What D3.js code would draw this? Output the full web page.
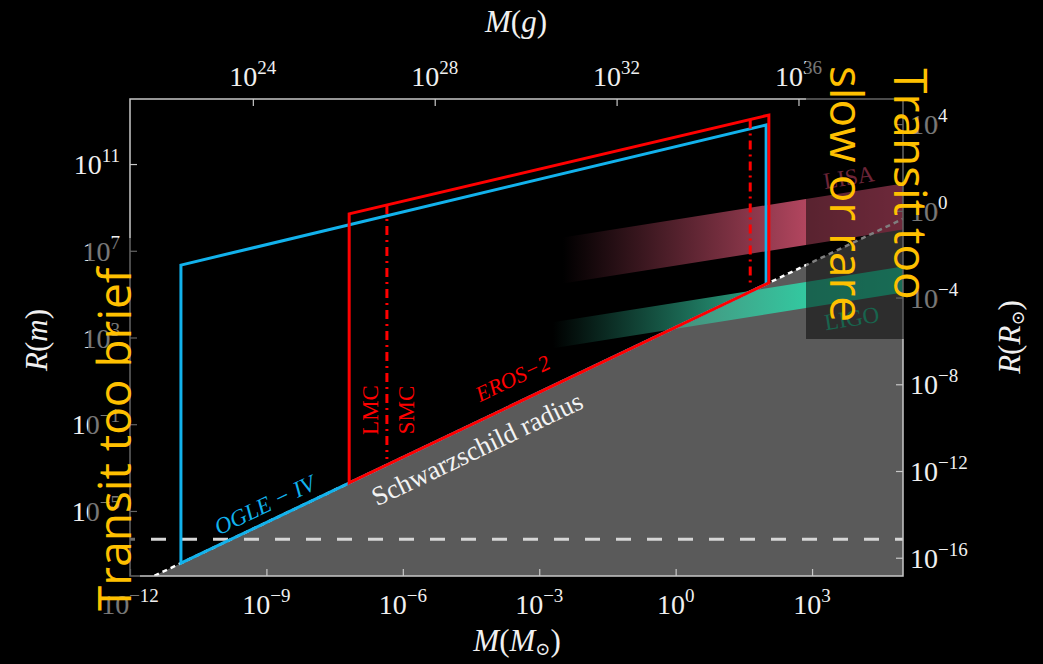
<!DOCTYPE html>
<html>
<head>
<meta charset="utf-8">
<script src="https://cdn.jsdelivr.net/npm/d3@7"></script>
<style>
  body { margin: 0; background: #000; }
  svg { display: block; }
</style>
</head>
<body>
<script>
// All chart values are log10 exponents
const massDomain = [-12, 5]; // log10 M/Msun
const radiusDomain = [-8, 14]; // log10 R/m
const bottomTicks = [-12, -9, -6, -3, 0, 3];
const topTicks = [24, 28, 32, 36]; // grams
const leftTicks = [-5, -1, 3, 7, 11]; // metres
const rightTicks = [-16, -12, -8, -4, 0, 4]; // solar radii
const logMsunGram = 33.2986;
const logRsunMetre = 8.8424;
const logSchwarzschild = 3.4703; // R_s = 2GM/c^2 in m for 1 Msun

// survey boxes: [mass, top radius] at left and right edge
const ogleMass = [-10.88, 1.99];
const ogleTop = [6.34, 12.8];
const erosMass = [-7.18, 2.05];
const erosTop = [8.7, 13.26];
const cloudMass = [-6.35, 1.64]; // LMC / SMC dash-dot lines

// GW bands: [mass, low R, high R] at both ends
const lisaBand = [[-2.48, 5.49, 7.61], [5, 7.98, 10.1]];
const ligoBand = [[-2.7, 2.5, 3.7], [5, 5.07, 6.27]];
const whiteDwarfLine = -6.31; // dashed horizontal

const width = 1043, height = 664;
const plot = { left: 130, right: 903, top: 99, bottom: 576 };

const x = d3.scaleLinear().domain(massDomain).range([plot.left, plot.right]);
const y = d3.scaleLinear().domain(radiusDomain).range([plot.bottom, plot.top]);
const rs = (m) => m + logSchwarzschild;

const serif = "'Liberation Serif', 'DejaVu Serif', serif";
const blue = "#12b2ec";
const red = "#ff0000";

const svg = d3
  .select("body")
  .append("svg")
  .attr("width", width)
  .attr("height", height);

svg.append("rect").attr("width", width).attr("height", height).attr("fill", "#000");

const defs = svg.append("defs");
defs
  .append("clipPath")
  .attr("id", "plotclip")
  .append("rect")
  .attr("x", plot.left)
  .attr("y", plot.top)
  .attr("width", plot.right - plot.left)
  .attr("height", plot.bottom - plot.top);

function bandGradient(id, band, c1, c2) {
  const x0 = x(band[0][0]), x1 = x(band[1][0]);
  const mid = (x(2.87) - x0) / (x1 - x0);
  const g = defs
    .append("linearGradient")
    .attr("id", id)
    .attr("gradientUnits", "userSpaceOnUse")
    .attr("x1", x0)
    .attr("x2", x1)
    .attr("y1", 0)
    .attr("y2", 0);
  g.append("stop").attr("offset", 0).attr("stop-color", c1).attr("stop-opacity", 0);
  g.append("stop").attr("offset", mid).attr("stop-color", c1).attr("stop-opacity", 1);
  g.append("stop").attr("offset", 1).attr("stop-color", c2).attr("stop-opacity", 1);
}
bandGradient("lisaGrad", lisaBand, "#b2465f", "#dc5276");
bandGradient("ligoGrad", ligoBand, "#33c8a0", "#30d8aa");

const g = svg.append("g").attr("clip-path", "url(#plotclip)");

// black-hole region below the Schwarzschild radius
g.append("path")
  .attr(
    "d",
    d3.line()([
      [x(massDomain[0]), y(rs(massDomain[0]))],
      [x(massDomain[1]), y(rs(massDomain[1]))],
      [x(massDomain[1]), y(radiusDomain[0])],
      [x(massDomain[0]), y(radiusDomain[0])],
    ])
  )
  .attr("fill", "#5a5a5a");

// GW frequency bands
function drawBand(band, grad) {
  const pts = [
    [x(band[0][0]), y(band[0][1])],
    [x(band[1][0]), y(band[1][1])],
    [x(band[1][0]), y(band[1][2])],
    [x(band[0][0]), y(band[0][2])],
  ];
  g.append("path").attr("d", d3.line()(pts) + "Z").attr("fill", `url(#${grad})`);
}
drawBand(lisaBand, "lisaGrad");
drawBand(ligoBand, "ligoGrad");

// dashed horizontal line
g.append("line")
  .attr("x1", plot.left)
  .attr("x2", plot.right)
  .attr("y1", y(whiteDwarfLine))
  .attr("y2", y(whiteDwarfLine))
  .attr("stroke", "#d6d6d6")
  .attr("stroke-width", 3)
  .attr("stroke-dasharray", "15,16")
  .attr("stroke-dashoffset", 10);

// Schwarzschild radius (dotted)
g.append("line")
  .attr("x1", x(massDomain[0]))
  .attr("y1", y(rs(massDomain[0])))
  .attr("x2", x(massDomain[1]))
  .attr("y2", y(rs(massDomain[1])))
  .attr("stroke", "#fff")
  .attr("stroke-width", 2.5)
  .attr("stroke-dasharray", "5,4");

// survey boxes
function drawBox(mass, top, color) {
  const pts = [
    [x(mass[0]), y(rs(mass[0]))],
    [x(mass[0]), y(top[0])],
    [x(mass[1]), y(top[1])],
    [x(mass[1]), y(rs(mass[1]))],
  ];
  g.append("path")
    .attr("d", d3.line()(pts) + "Z")
    .attr("fill", "none")
    .attr("stroke", color)
    .attr("stroke-width", 3)
    .attr("stroke-linejoin", "miter");
}
drawBox(ogleMass, ogleTop, blue);
drawBox(erosMass, erosTop, red);

const erosTopAt = (m) =>
  erosTop[0] + ((m - erosMass[0]) * (erosTop[1] - erosTop[0])) / (erosMass[1] - erosMass[0]);
cloudMass.forEach((m) => {
  g.append("line")
    .attr("x1", x(m))
    .attr("x2", x(m))
    .attr("y1", y(erosTopAt(m)))
    .attr("y2", y(rs(m)) - 6)
    .attr("stroke", red)
    .attr("stroke-width", 3)
    .attr("stroke-dasharray", "9,5,2,5");
});

// labels in the plot
const slopeAngle = (-Math.atan((y(0) - y(1)) / (x(1) - x(0))) * 180) / Math.PI;
function label(text, px, py, angle, color, size, italic) {
  return svg
    .append("text")
    .attr("transform", `translate(${px},${py}) rotate(${angle})`)
    .attr("text-anchor", "middle")
    .attr("font-family", serif)
    .attr("font-size", size)
    .attr("font-style", italic ? "italic" : "normal")
    .attr("fill", color)
    .text(text);
}
label("OGLE − IV", 268, 512, slopeAngle, blue, 23, true);
label("EROS−2", 516, 385, slopeAngle, red, 22, true);
label("Schwarzschild radius", 481, 457, slopeAngle, "#f2f2f2", 27, false);
label("LMC", 378, 410, -90, red, 23, false);
label("SMC", 414, 410, -90, red, 23, false);
label("LISA", 850, 185, -9, "#d84a70", 23, false);
label("LIGO", 853, 326, -9, "#30c89c", 23, false);

// frame and ticks
const frameColor = "#c8c8c8";
svg.append("rect")
  .attr("x", plot.left)
  .attr("y", plot.top)
  .attr("width", plot.right - plot.left)
  .attr("height", plot.bottom - plot.top)
  .attr("fill", "none")
  .attr("stroke", frameColor)
  .attr("stroke-width", 1.5);

function styleAxis(sel) {
  sel.select(".domain").remove();
  sel.selectAll(".tick line").attr("stroke", frameColor).attr("stroke-width", 1.2);
  sel.selectAll(".tick text").remove();
}
const xTop = d3.scaleLinear().domain(massDomain.map((m) => m + logMsunGram)).range(x.range());
const yRight = d3.scaleLinear().domain(radiusDomain.map((r) => r - logRsunMetre)).range(y.range());

svg.append("g").attr("transform", `translate(0,${plot.bottom})`)
  .call(d3.axisBottom(x).tickValues(bottomTicks).tickSizeInner(-7)).call(styleAxis);
svg.append("g").attr("transform", `translate(0,${plot.top})`)
  .call(d3.axisTop(xTop).tickValues(topTicks).tickSizeInner(-7)).call(styleAxis);
svg.append("g").attr("transform", `translate(${plot.left},0)`)
  .call(d3.axisLeft(y).tickValues(leftTicks).tickSizeInner(-7)).call(styleAxis);
svg.append("g").attr("transform", `translate(${plot.right},0)`)
  .call(d3.axisRight(yRight).tickValues(rightTicks).tickSizeInner(-7)).call(styleAxis);

// power-of-ten labels
function powText(px, py, exp, anchor) {
  const t = svg.append("text")
    .attr("x", px)
    .attr("y", py)
    .attr("text-anchor", anchor)
    .attr("font-family", serif)
    .attr("font-size", 28)
    .attr("fill", "#f0f0f0");
  t.append("tspan").text("10");
  t.append("tspan")
    .attr("dy", -12)
    .attr("font-size", 19)
    .text(exp < 0 ? "−" + -exp : exp);
}
bottomTicks.forEach((e) => powText(x(e), 614, e, "middle"));
topTicks.forEach((e) => powText(xTop(e), 86, e, "middle"));
leftTicks.forEach((e) => powText(120, y(e) + 10, e, "end"));
rightTicks.forEach((e) => powText(910, yRight(e) + 10, e, "start"));

// axis titles
function mathTitle(px, py, angle, parts) {
  const t = svg.append("text")
    .attr("transform", `translate(${px},${py}) rotate(${angle})`)
    .attr("text-anchor", "middle")
    .attr("font-family", serif)
    .attr("font-size", 31)
    .attr("fill", "#f0f0f0");
  parts.forEach(([s, it, sub]) => {
    const sp = t.append("tspan").text(s).attr("font-style", it ? "italic" : "normal");
    if (sub === 1) sp.attr("font-size", 18).attr("dy", 4);
    if (sub === -1) sp.attr("dy", -4);
  });
}
mathTitle(516, 32, 0, [["M", 1], ["(", 0], ["g", 1], [")", 0]]);
mathTitle(517, 651, 0, [["M", 1], ["(", 0], ["M", 1], ["⊙", 0, 1], [")", 0, -1]]);
mathTitle(47, 340, -90, [["R", 1], ["(", 0], ["m", 1], [")", 0]]);
mathTitle(1020, 337, -90, [["R", 1], ["(", 0], ["R", 1], ["⊙", 0, 1], [")", 0, -1]]);

// semi-transparent note boxes
svg.append("rect").attr("x", 88).attr("y", 238).attr("width", 52).attr("height", 386)
  .attr("fill", "#000").attr("fill-opacity", 0.5);
svg.append("rect").attr("x", 806).attr("y", 44).attr("width", 131).attr("height", 295)
  .attr("fill", "#000").attr("fill-opacity", 0.5);

// yellow notes
const sans = "'Open Sans', 'Noto Sans', sans-serif";
const yellow = "#ffc000";
svg.append("text")
  .attr("transform", "translate(131,611) rotate(-90)")
  .attr("font-family", sans)
  .attr("font-size", 46)
  .attr("fill", yellow)
  .text("Transit too brief");
svg.append("text")
  .attr("transform", "translate(894,184) rotate(90)")
  .attr("text-anchor", "middle")
  .attr("font-family", sans)
  .attr("font-size", 46)
  .attr("fill", yellow)
  .text("Transit too");
svg.append("text")
  .attr("transform", "translate(830,194) rotate(90)")
  .attr("text-anchor", "middle")
  .attr("font-family", sans)
  .attr("font-size", 46)
  .attr("fill", yellow)
  .text("slow or rare");
</script>
</body>
</html>
